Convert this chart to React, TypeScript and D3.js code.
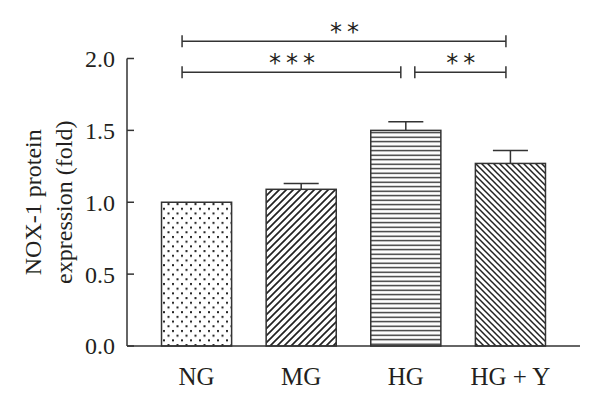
import React from "react";
import * as d3 from "d3";

const categories = ["NG", "MG", "HG", "HG + Y"];
const means = [1.0, 1.09, 1.5, 1.27];
const errors = [0, 0.04, 0.06, 0.09];
const yTicks = [0, 0.5, 1.0, 1.5, 2.0];
const patterns = ["dots", "diagUp", "horiz", "diagDown"];

// significance brackets
const compFrom = ["NG", "NG", "HG"];
const compTo = ["HG + Y", "HG", "HG + Y"];
const compLevel = [2.12, 1.905, 1.905];
const compLabels = ["**", "***", "**"];

const width = 600;
const height = 399;
const ink = "#333";
const textColor = "#231f20";
const font = "'Liberation Serif', 'Times New Roman', serif";

export default function App() {
  const x = d3.scaleBand<string>().domain(categories).range([127, 580]).paddingInner(0.33).paddingOuter(0.33);
  const y = d3.scaleLinear().domain([0, 2]).range([346, 58.5]);
  const bw = x.bandwidth();
  const cx = (c: string) => (x(c) as number) + bw / 2;

  return (
    <svg width={width} height={height} style={{ position: "absolute", left: 0, top: 0, background: "#fff" }}>
      <defs>
        <pattern id="dots" patternUnits="userSpaceOnUse" width={9} height={9.4}>
          <rect x={1} y={1} width={2} height={2} fill="#222" />
          <rect x={5.5} y={5.7} width={2} height={2} fill="#222" />
        </pattern>
        <pattern id="diagUp" patternUnits="userSpaceOnUse" width={7} height={7}>
          <path d="M-1,1 l2,-2 M0,7 l7,-7 M6,8 l2,-2" stroke="#222" strokeWidth={1.7} />
        </pattern>
        <pattern id="diagDown" patternUnits="userSpaceOnUse" width={6} height={6}>
          <path d="M-1,5 l2,2 M0,0 l6,6 M5,-1 l2,2" stroke="#222" strokeWidth={1.5} />
        </pattern>
        <pattern id="horiz" patternUnits="userSpaceOnUse" width={8} height={4.5}>
          <line x1={0} x2={8} y1={2.2} y2={2.2} stroke="#222" strokeWidth={1.3} />
        </pattern>
      </defs>

      {/* bars */}
      {categories.map((c, i) => (
        <g key={c}>
          {errors[i] > 0 && (
            <g stroke={ink} strokeWidth={1.5}>
              <line x1={cx(c)} x2={cx(c)} y1={y(means[i])} y2={y(means[i] + errors[i])} />
              <line x1={cx(c) - bw / 4} x2={cx(c) + bw / 4} y1={y(means[i] + errors[i])} y2={y(means[i] + errors[i])} />
            </g>
          )}
          <rect x={x(c)} y={y(means[i])} width={bw} height={y(0) - y(means[i])} fill="#fff" />
          <rect
            x={x(c)}
            y={y(means[i])}
            width={bw}
            height={y(0) - y(means[i])}
            fill={`url(#${patterns[i]})`}
            stroke={ink}
            strokeWidth={1.5}
          />
        </g>
      ))}

      {/* axes */}
      <g stroke={ink} strokeWidth={1.5} fill="none">
        <line x1={127} x2={127} y1={y(2)} y2={y(0)} />
        <line x1={127} x2={580} y1={y(0)} y2={y(0)} />
        {yTicks.map((t) => (
          <line key={t} x1={127} x2={134} y1={y(t)} y2={y(t)} />
        ))}
      </g>
      {yTicks.map((t) => (
        <text key={t} x={115} y={y(t)} dy="0.35em" textAnchor="end" fontFamily={font} fontSize={24} fill={textColor}>
          {d3.format(".1f")(t)}
        </text>
      ))}
      {categories.map((c) => (
        <text key={c} x={cx(c)} y={385} textAnchor="middle" fontFamily={font} fontSize={25} fill={textColor}>
          {c}
        </text>
      ))}
      <text transform={`translate(41, ${y(1)}) rotate(-90)`} textAnchor="middle" fontFamily={font} fontSize={24} fill={textColor}>
        NOX-1 protein
      </text>
      <text transform={`translate(72, ${y(1)}) rotate(-90)`} textAnchor="middle" fontFamily={font} fontSize={24} fill={textColor}>
        expression (fold)
      </text>

      {/* significance brackets */}
      {compFrom.map((f, i) => {
        const x1 = cx(f) - 14.5 + (i === 2 ? 23.5 : 0);
        const x2 = cx(compTo[i]) - (compTo[i] === "HG" ? 5 : 4.5);
        const yy = y(compLevel[i]);
        return (
          <g key={i}>
            <g stroke={ink} strokeWidth={1.5}>
              <line x1={x1} x2={x2} y1={yy} y2={yy} />
              <line x1={x1} x2={x1} y1={yy - 6} y2={yy + 6} />
              <line x1={x2} x2={x2} y1={yy - 6} y2={yy + 6} />
            </g>
            <text
              x={(x1 + x2) / 2 + 3}
              y={yy - 1}
              textAnchor="middle"
              fontFamily="'DejaVu Sans', sans-serif"
              fontSize={24}
              letterSpacing={5}
              fill={textColor}
            >
              {compLabels[i]}
            </text>
          </g>
        );
      })}
    </svg>
  );
}
